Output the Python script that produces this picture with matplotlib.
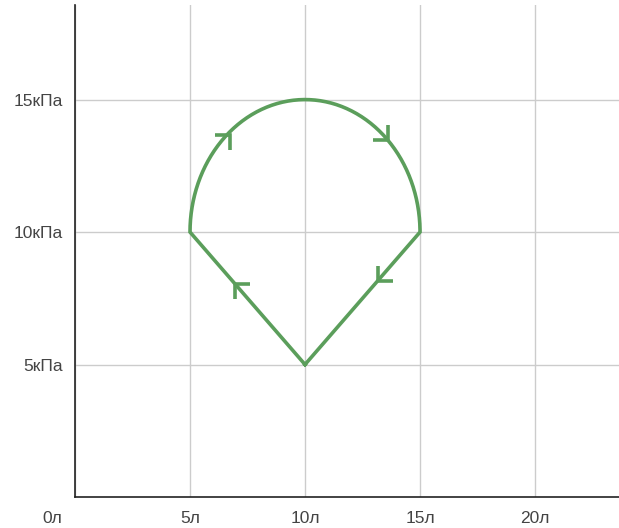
import numpy as np
import matplotlib
matplotlib.use("Agg")
import matplotlib.pyplot as plt
import matplotlib.transforms as mtransforms

plt.rcParams['font.family'] = ['Liberation Sans', 'DejaVu Sans']

# Data
start_point = (10, 5)
left_point = (5, 10)
arc_center = (10, 10)
arc_radius = 5
right_point = (15, 10)

x_ticks = [0, 5, 10, 15, 20]
x_labels = ["0л", "5л", "10л", "15л", "20л"]
y_ticks = [5, 10, 15]
y_labels = ["5кПа", "10кПа", "15кПа"]

# arrow tips (x, y) and direction signs (sx, sy) of travel
arrow_x = [6.74, 13.6, 13.17, 6.96]
arrow_y = [13.66, 13.47, 8.17, 8.04]
arrow_sx = [1, 1, -1, -1]
arrow_sy = [1, -1, -1, 1]

color = '#5B9E5B'

fig = plt.figure(figsize=(6.19, 5.28), dpi=100)
ax = fig.add_axes([75/619, 31/528, 544/619, 492/528])
ax.set_xlim(0, 23.65)
ax.set_ylim(0, 18.57)

# path
theta = np.linspace(np.pi, 0, 200)
arc_x = arc_center[0] + arc_radius*np.cos(theta)
arc_y = arc_center[1] + arc_radius*np.sin(theta)
px = np.concatenate([[start_point[0], left_point[0]], arc_x, [right_point[0], start_point[0]]])
py = np.concatenate([[start_point[1], left_point[1]], arc_y, [right_point[1], start_point[1]]])
ax.plot(px, py, color=color, lw=2.6, solid_joinstyle='miter', zorder=3)

# arrows: arms of ~15 px
dx = 15/23.0
dy = 15/26.5
for x, y, sx, sy in zip(arrow_x, arrow_y, arrow_sx, arrow_sy):
    ax.plot([x - sx*dx, x, x], [y, y, y - sy*dy], color=color, lw=2.6,
            solid_capstyle='butt', solid_joinstyle='miter', zorder=3)

ax.set_xticks(x_ticks)
ax.set_xticklabels(x_labels)
ax.set_yticks(y_ticks)
ax.set_yticklabels(y_labels)
ax.tick_params(length=0, labelsize=12.5, labelcolor='#444444')
ax.tick_params(axis='x', pad=10)
ax.tick_params(axis='y', pad=8.5)
ax.grid(True, color='#cccccc', lw=1)
ax.set_axisbelow(True)
for s in ['top', 'right']:
    ax.spines[s].set_visible(False)
for s in ['left', 'bottom']:
    ax.spines[s].set_color('#222222')
    ax.spines[s].set_linewidth(1.2)

# shift the 0 label left
lab0 = ax.get_xticklabels()[0]
lab0.set_transform(lab0.get_transform() + mtransforms.ScaledTranslation(-23/100, 0, fig.dpi_scale_trans))

fig.savefig("out.png", dpi=100)
